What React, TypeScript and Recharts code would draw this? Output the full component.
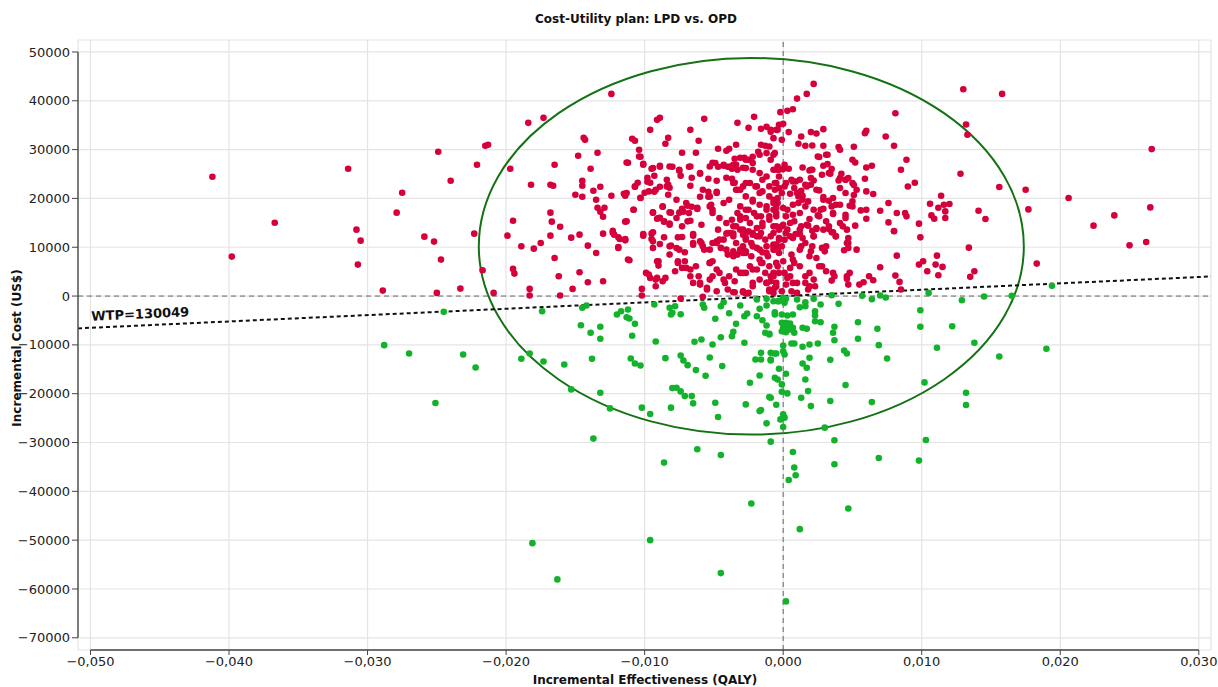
import React from 'react';
import {
  ScatterChart,
  Scatter,
  XAxis,
  YAxis,
  CartesianGrid,
  ReferenceLine,
  ReferenceArea,
  ReferenceDot,
} from 'recharts';

// Simulaciones probabilísticas: [efectividad incremental (QALY), costo incremental (US$)]
// Rojo: por encima de la recta de WTP
const aboveWtp: [number, number][] = [
  [-0.0412, 24440], [-0.0398, 8080], [-0.0367, 15030], [-0.0314, 26070], [-0.0308, 13600], [-0.0305, 11350],
  [-0.0307, 6440], [-0.0289, 1120], [-0.0279, 17080], [-0.0275, 21170], [-0.0259, 12170], [-0.0252, 11150],
  [-0.0249, 29550], [-0.0247, 7470], [-0.025, 650], [-0.024, 23620], [-0.0233, 1530], [-0.0223, 12780],
  [-0.0221, 26890], [-0.0217, 5280], [-0.0209, 650],
  [-0.0215, 30780], [-0.0213, 30980], [-0.0184, 35480], [-0.0173, 36500], [-0.0124, 41410], [-0.0197, 26070],
  [-0.0165, 26890], [-0.0144, 32410], [-0.0143, 32000], [-0.0148, 28730], [-0.0139, 26070], [-0.0134, 29350],
  [-0.0182, 22800], [-0.0168, 22800], [-0.0166, 22600], [-0.0145, 23620], [-0.0145, 22600], [-0.015, 20760],
  [-0.0145, 20350], [-0.0137, 21570], [-0.0132, 22390], [-0.0135, 19730], [-0.0124, 20550], [-0.0115, 20960],
  [-0.0114, 20550], [-0.0134, 18100], [-0.0129, 18100], [-0.0132, 17280], [-0.013, 16260], [-0.0168, 17080],
  [-0.0195, 15440], [-0.0167, 15240], [-0.0161, 14210], [-0.0199, 12370], [-0.0168, 12370], [-0.0153, 11960],
  [-0.0147, 12580], [-0.013, 12780], [-0.0123, 12990], [-0.0122, 12580], [-0.0114, 15240], [-0.0108, 17690],
  [-0.0112, 27300], [-0.0109, 32210], [-0.0107, 31800], [-0.0104, 29960], [-0.0103, 28530], [-0.0096, 34050],
  [-0.0091, 36090], [-0.0089, 36500], [-0.0083, 32410], [-0.0085, 31190], [-0.0101, 27100], [-0.0095, 26070],
  [-0.0098, 24230], [-0.0098, 23420], [-0.0096, 23210], [-0.0089, 26480], [-0.0093, 24640], [-0.008, 26480],
  [-0.0075, 25660], [-0.0074, 24640], [-0.0067, 34050], [-0.0073, 29350], [-0.0063, 29350], [-0.0061, 31800],
  [-0.0068, 26480], [-0.0057, 36300], [-0.006, 25050], [-0.0066, 24230], [-0.0067, 22600], [-0.0084, 23820],
  [-0.0083, 22800], [-0.0082, 22190], [-0.0089, 22390], [-0.0107, 22390], [-0.0105, 23210], [-0.01, 21170],
  [-0.0103, 20140], [-0.0093, 21370], [-0.0087, 18300], [-0.0094, 17080], [-0.0089, 16050], [-0.0091, 15850],
  [-0.0086, 15240], [-0.0082, 14830], [-0.0081, 17080], [-0.0075, 17080], [-0.0072, 17280], [-0.0069, 18510],
  [-0.0073, 17890], [-0.0066, 18300], [-0.0067, 15440], [-0.0062, 18100], [-0.0059, 14620], [-0.006, 20350],
  [-0.0054, 20350], [-0.0052, 18710], [-0.0051, 17690], [-0.0054, 21370], [-0.0048, 21370], [-0.0054, 24030],
  [-0.0048, 23620], [-0.0041, 24230], [-0.0037, 24030], [-0.0035, 23210], [-0.0051, 27300], [-0.0047, 26480],
  [-0.0043, 26690], [-0.004, 26480], [-0.0036, 26890], [-0.0047, 30160], [-0.0041, 29760], [-0.0039, 30160],
  [-0.0034, 30980], [-0.0033, 35480], [-0.0025, 34460], [-0.0021, 36710], [-0.0016, 34250], [-0.0012, 34660],
  [-0.0009, 33640], [-0.0005, 34050], [-0.0035, 28120], [-0.0031, 28320], [-0.0028, 28320], [-0.0037, 26070],
  [-0.0033, 25870], [-0.0029, 26280], [-0.0025, 27910], [-0.0022, 28530], [-0.0018, 29550], [-0.0016, 30980],
  [-0.0013, 30780],
  [-0.0053, 18370], [-0.0051, 17010], [-0.0046, 15990], [-0.0041, 14960], [-0.0036, 14280], [-0.0031, 13600],
  [-0.0027, 12920], [-0.0019, 13940], [-0.0015, 14960], [-0.001, 16330], [-0.0005, 14280], [-0.0047, 13600],
  [-0.004, 12920], [-0.0036, 12230], [-0.0029, 12580], [-0.0022, 12580], [-0.0016, 12920],
  [-0.0027, 27910], [-0.0022, 25870], [-0.0017, 25190], [-0.0012, 24500], [-0.0007, 25870], [-0.0004, 26550],
  [-0.0024, 23150], [-0.0019, 22460], [-0.0015, 21440], [-0.001, 20410], [-0.0006, 21780], [-0.0027, 20410],
  [-0.0022, 19390], [-0.0017, 18710], [-0.0012, 17690], [-0.0007, 17690], [-0.0004, 19060], [-0.0033, 21780],
  [-0.0029, 22460], [-0.0025, 17690], [-0.0021, 17010], [-0.0016, 16330], [-0.0031, 16330], [-0.0027, 15990],
  [0.0022, 43460], [0.0017, 41410], [0.001, 40450], [-0.0002, 37670], [0.0003, 37940], [0.0007, 38280],
  [0.0081, 37460], [0.013, 42370], [0.0158, 41410], [0.0132, 35130], [0.0133, 33030], [-0.0003, 35070],
  [0.0, 35280], [-0.0009, 34050], [-0.0004, 34050], [-0.0007, 32350], [-0.0001, 32000], [0.0004, 33580],
  [0.0013, 32680], [0.002, 33580], [0.0024, 33290], [0.0029, 34190], [0.0059, 33370], [0.006, 33840],
  [0.0074, 32680], [0.008, 30780], [0.0011, 31190], [0.0016, 30780], [0.0021, 30840], [0.0029, 30780],
  [0.004, 30510], [0.0041, 29960], [0.0051, 30570], [-0.001, 30640], [-0.0006, 29280], [-0.0009, 27910],
  [0.0026, 28470], [0.0032, 28940], [0.005, 27910], [0.0052, 27360], [0.006, 26340], [0.0064, 26690],
  [0.0089, 27910], [0.0085, 25870], [0.0014, 26340], [0.0019, 25730], [0.0021, 25870], [0.0029, 26690],
  [0.0032, 27030], [0.0035, 26010], [0.0028, 24850], [0.0034, 25050], [0.0042, 25050], [0.0045, 23820],
  [0.0047, 24170], [0.004, 23680], [0.0041, 22130], [0.0051, 22740], [0.0053, 21780], [0.0059, 24030],
  [0.006, 21440], [0.0065, 20900], [0.0051, 20690], [0.009, 22450], [0.0095, 23210], [0.0128, 25050],
  [0.0114, 20550], [0.0106, 18920], [0.0112, 18100], [0.0116, 18710], [0.012, 18850], [0.0117, 17340],
  [0.0117, 15990], [0.0107, 16520], [0.0109, 15850], [0.0098, 14830], [0.0099, 12030], [0.0076, 19060],
  [0.0082, 17010], [0.0088, 17010], [0.0089, 16330], [0.0076, 15090], [0.008, 13330], [0.007, 17480],
  [0.006, 17690], [0.006, 15850], [0.0052, 14420], [0.0056, 17550], [0.005, 19390], [0.0048, 18510],
  [0.0045, 15990], [0.0041, 14960], [0.0043, 14280], [0.0036, 16810], [0.0038, 18710], [0.0029, 17890],
  [0.0025, 16520], [0.0027, 17690], [0.0033, 13740], [0.0036, 13050], [0.0024, 13740], [0.0021, 13390],
  [0.0029, 13600], [0.0018, 14420], [0.0019, 15790], [0.0013, 14280], [0.0009, 12720], [0.0012, 12720],
  [0.0029, 19730], [0.0033, 19530], [0.0035, 18370], [0.0024, 21780], [0.0026, 21640], [0.0029, 20290],
  [0.002, 24170], [0.0022, 23680], [0.002, 22800], [0.0016, 22800], [0.0013, 21580], [0.0004, 26070],
  [0.0, 26010], [-0.0005, 25870], [-0.0003, 24500], [-0.0006, 23150], [-0.0003, 22130], [0.0001, 22460],
  [0.0006, 23820], [0.0009, 23480], [0.0008, 22130], [0.0005, 20960], [0.0011, 20410], [0.0014, 20550],
  [0.0018, 19390], [0.0016, 18370], [0.0011, 19060], [0.0007, 18710], [0.0003, 17690], [0.0, 18030],
  [-0.0005, 18030], [-0.0007, 19060], [-0.0004, 20080], [-0.0005, 16330], [0.0002, 16330], [0.0007, 16670],
  [0.0012, 17010], [0.0, 14620], [0.0003, 13600], [-0.0003, 13600], [-0.0007, 14280], [0.0005, 14960],
  [0.0008, 15300], [0.0014, 11900], [0.0022, 12230], [0.0005, 12230], [-0.0003, 11900], [-0.0009, 12230],
  [0.0047, 11900], [0.0038, 12230],
  [0.0266, 30100], [0.0156, 22330], [0.0175, 21780], [0.0206, 20080], [0.0177, 17750], [0.0265, 18160],
  [0.0141, 17480], [0.0146, 15790], [0.0239, 16520], [0.0224, 14420], [0.0262, 11080], [0.025, 10390],
  [0.0134, 9920], [0.0183, 6650], [0.0138, 5070], [0.0135, 3930],
  [0.0035, 13050], [0.0046, 13600], [0.008, 13260], [0.0082, 8280], [0.0098, 6440], [0.0101, 7120],
  [0.0104, 5070], [0.011, 6440], [0.0111, 8280], [0.0115, 5970], [0.0112, 4250], [0.0081, 4190],
  [0.0084, 2900], [0.0085, 1330], [0.007, 5890], [0.0062, 4050], [0.0065, 3230], [0.0055, 2350],
  [0.0058, 2820], [0.0048, 4740], [0.0046, 3520], [0.0047, 2350], [0.0037, 4050], [0.0035, 3170],
  [0.0031, 5070], [0.0044, 9370], [0.0047, 10880], [0.0047, 9860], [0.0024, 7810], [0.0028, 6090],
  [0.0019, 4740], [0.0016, 4050], [0.0016, 2700], [0.0022, 3370], [0.0023, 2000], [0.0018, 1330],
  [0.003, 9160], [0.0028, 9860], [0.002, 9160], [0.0021, 10180], [0.0016, 10880], [0.0013, 10180],
  [0.0006, 8490], [0.0008, 6790], [0.0005, 5770], [0.0001, 4740], [0.0003, 3720], [0.0007, 2700],
  [0.0002, 2350], [-0.0001, 980], [0.0006, 980], [0.001, 650], [-0.0005, 10530], [-0.0007, 9510],
  [-0.0003, 11550], [0.0001, 11550], [0.0, 7120], [-0.0004, 6090], [-0.0007, 4740], [-0.0009, 3030],
  [-0.0005, 2700], [-0.0006, 1680], [-0.001, 1330],
  [-0.0189, 10180], [-0.018, 9710], [-0.0175, 10880], [-0.0165, 7810], [-0.0141, 10330], [-0.0135, 8830],
  [-0.0119, 10060], [-0.0118, 11700], [-0.0114, 11410], [-0.0111, 7320], [-0.0195, 5560], [-0.0194, 4600],
  [-0.0183, 1470], [-0.0183, 100], [-0.0161, 100], [-0.0162, 4050], [-0.0147, 4870], [-0.0152, 1470],
  [-0.0141, 2820], [-0.013, 3030], [-0.0101, 12370], [-0.0095, 12780], [-0.0094, 11210], [-0.0089, 10670],
  [-0.0102, 1470], [-0.0102, 100], [-0.0099, 4740], [-0.0096, 3720], [-0.0091, 7120], [-0.009, 6240],
  [-0.0091, 3720], [-0.0087, 3030], [-0.0092, 2000],
  [-0.0081, 10330], [-0.0077, 9850], [-0.0073, 12100], [-0.0071, 8960], [-0.0065, 10530], [-0.0065, 12370],
  [-0.0059, 10880], [-0.0057, 9510], [-0.0053, 6790], [-0.0051, 7120], [-0.0051, 10880], [-0.0048, 11210],
  [-0.0046, 11550], [-0.0041, 12780], [-0.0036, 12780], [-0.0045, 9860], [-0.004, 8490], [-0.0036, 9160],
  [-0.0033, 8490], [-0.0029, 8830], [-0.0027, 9160], [-0.0023, 10880], [-0.0019, 9860], [-0.0015, 8960],
  [-0.0012, 10180], [-0.0007, 10530], [-0.0004, 9510], [-0.0017, 12230], [-0.0027, 11900], [-0.0022, 12920],
  [-0.0076, 6790], [-0.0073, 5770], [-0.0071, 7120], [-0.0067, 5430], [-0.0063, 6110], [-0.0061, 4050],
  [-0.0065, 2700], [-0.006, 2350], [-0.0055, 1330], [-0.0053, 3370], [-0.0051, 4050], [-0.0046, 4740],
  [-0.0042, 2700], [-0.004, 1330], [-0.0035, 3030], [-0.0031, 4740], [-0.0027, 4740], [-0.0022, 5430],
  [-0.0016, 6790], [-0.0013, 4740], [-0.0012, 2700], [-0.0009, 4050], [-0.0005, 2000], [-0.0007, 650],
  [-0.0022, 2000], [-0.0025, 650], [-0.0029, 980], [-0.0035, 780],
  [-0.0074, -510], [-0.0058, -160], [-0.0048, 980], [-0.0036, 780], [-0.0029, 780], [-0.0027, 510], [-0.001, 980],
  [-0.0053, 26550], [-0.0049, 27240], [-0.0043, 26890], [-0.0038, 26550], [-0.0034, 26890], [-0.0027, 26210],
  [-0.0022, 27240], [-0.0017, 28940], [-0.0012, 29280], [-0.0007, 28940], [-0.0003, 25870], [0.0001, 26890],
  [0.0007, 23480], [0.0012, 23820], [0.0017, 22460], [0.002, 25870], [0.0025, 28600], [0.0031, 28940],
  [0.0033, 25190], [0.0041, 24170], [0.0045, 23820], [0.005, 23150], [0.0045, 21100], [0.0036, 20080],
  [0.0041, 18710], [0.005, 18370], [0.0045, 16670], [0.0036, 17010], [0.0031, 15300], [0.0024, 13940],
  [0.0017, 14620], [0.0012, 13600], [0.0007, 11900], [0.0002, 12920],
  [-0.0058, 21780], [-0.0053, 20410], [-0.0048, 21100], [-0.0043, 19060], [-0.0039, 19730], [-0.0034, 21780],
  [-0.0031, 18370], [-0.0027, 17690], [-0.0022, 19730], [-0.0017, 21100], [-0.0012, 18370], [-0.0007, 19730],
  [-0.0005, 17010], [-0.001, 15640], [-0.0015, 14280], [-0.0019, 16330], [-0.0024, 14960], [-0.0029, 13600],
  [-0.0034, 14280], [-0.0038, 12920], [-0.0043, 11550], [-0.0048, 10880], [-0.0053, 9510], [-0.0058, 10180],
  [-0.0041, 9510], [-0.0036, 8150], [-0.0031, 9510], [-0.0027, 8830], [-0.0022, 10180], [-0.0017, 9510],
  [-0.0012, 8830], [-0.0007, 10180], [-0.0003, 8830], [-0.0005, 6790], [-0.001, 6110], [-0.0015, 6790],
  [-0.0019, 5430], [-0.0024, 6110], [-0.0029, 4740], [-0.0034, 5430], [-0.0039, 4050], [-0.0043, 3370],
  [-0.0048, 5430], [-0.0053, 6790], [-0.0022, 2700], [-0.0017, 3370], [-0.0012, 2700], [-0.0007, 4050],
  [-0.0003, 4740],
  [-0.0113, 27370], [-0.0104, 28600], [-0.0101, 26890], [-0.0094, 26210], [-0.0089, 26690], [-0.0082, 26550],
  [-0.0075, 25870], [-0.0067, 26550], [-0.006, 25190], [-0.0107, 22460], [-0.0113, 21100], [-0.0097, 21440],
  [-0.0092, 21780], [-0.0084, 22460], [-0.0083, 20760], [-0.0077, 19730], [-0.007, 19060], [-0.0103, 20080],
  [-0.0094, 17140], [-0.0087, 18370], [-0.0082, 17140], [-0.0077, 15990], [-0.0068, 17010], [-0.0062, 17830],
  [-0.0108, 17690], [-0.0113, 15300], [-0.009, 15990], [-0.0086, 15300], [-0.0082, 14620], [-0.0073, 14280],
  [-0.0069, 15300], [-0.0123, 13390], [-0.0119, 12030], [-0.0114, 11700], [-0.0101, 12720], [-0.0094, 13050],
  [-0.0095, 11700], [-0.0086, 12030], [-0.0076, 12030], [-0.0065, 12720], [-0.0119, 9860], [-0.0112, 7470],
  [-0.0094, 9860], [-0.009, 7120], [-0.0082, 10180], [-0.0082, 8490], [-0.0075, 9510], [-0.0076, 7120],
  [-0.0065, 10880], [-0.006, 11210], [-0.0097, 4400], [-0.0092, 3370], [-0.0085, 3720], [-0.0078, 5090],
  [-0.007, 5770], [-0.0067, 4050], [-0.006, 2700], [-0.0055, 1670],
  [0.0002, 23150], [0.001, 21100], [0.0014, 19730], [0.0022, 17690], [0.0026, 16330], [0.0033, 14280],
  [0.0038, 12230], [0.0046, 10880], [0.0053, 9510], [0.0022, 12230], [0.0031, 10180], [0.0012, 9510],
  [0.0019, 8150], [0.0026, 6110], [0.0036, 4740], [0.0046, 4050], [0.0012, 6110], [0.0005, 4050],
  [0.001, 2700], [0.0019, 2000], [0.0007, 7470],
  [-0.0036, 23150], [-0.0031, 21780], [-0.0027, 23150], [-0.002, 22460], [-0.0015, 23820], [-0.001, 22460],
  [-0.0005, 23150], [-0.0001, 21100], [-0.0031, 15640], [-0.0025, 13260], [-0.0019, 12230], [-0.0013, 11550],
  [-0.0007, 12920], [-0.0001, 14280], [-0.0029, 10180], [-0.0023, 8150], [-0.0017, 7470], [-0.0011, 8150],
  [-0.0006, 9510], [-0.0001, 10180], [-0.0027, 11550], [-0.0034, 10880], [-0.0037, 15640], [-0.0033, 17010],
];

// Verde: por debajo de la recta de WTP
const belowWtp: [number, number][] = [
  [0.0194, 2090], [0.0129, -860], [0.0145, -100], [0.0165, 40], [0.0138, -9570], [0.0156, -12370], [0.019, -10800],
  [-0.0004, -1060], [0.0, -370], [0.0002, -570], [0.0001, -1390], [0.001, -720], [0.0016, -1270], [0.0016, -2090],
  [0.0022, -570], [0.0027, -1740], [0.0012, -2290], [0.0035, 160], [0.004, -1600], [0.0057, 40], [0.0064, -650],
  [0.007, 100], [0.0074, -300], [0.0105, 650], [0.0099, -2900], [0.0099, -6300], [0.0122, -6180], [0.0111, -10600],
  [-0.0006, -3310], [-0.0001, -3780], [0.0003, -3990], [0.0007, -3780], [-0.0001, -5480], [0.0002, -5480],
  [0.0005, -5620], [0.0, -6500], [0.0003, -6500], [0.0007, -6500], [-0.0001, -7200], [0.0002, -7400],
  [0.0005, -6850], [0.0008, -7530], [0.0023, -3110], [0.0023, -3990], [0.0023, -5150], [0.0027, -5360],
  [0.0014, -6500], [0.0017, -6710], [0.0037, -6300], [0.0036, -7530], [0.0037, -9040], [0.0054, -5360],
  [0.0068, -6710], [0.0054, -8750], [0.0069, -10060], [0.0075, -12780], [0.0044, -11150], [0.0046, -11760],
  [0.0034, -13050], [0.0025, -9710], [0.0019, -9920], [0.0014, -10390], [0.0006, -9710], [0.0008, -9710],
  [0.0, -10120], [0.0, -11290], [0.0001, -11960], [-0.0006, -11760], [-0.0009, -12990], [-0.001, -7870],
  [0.0019, -12640], [0.0014, -13800], [0.0017, -14680], [-0.0003, -14890], [0.0002, -15910], [-0.0006, -16730],
  [-0.0004, -17080], [0.0016, -17080], [-0.0001, -18100], [0.0018, -19470], [-0.0001, -19590], [0.0003, -19940],
  [-0.0009, -20820], [0.0013, -20820], [0.002, -22540], [0.0034, -21510], [0.0045, -18240], [0.0064, -21720],
  [-0.0005, -22250], [0.0, -24230], [0.0001, -24910], [-0.0002, -25260], [0.0, -26830], [0.003, -26950],
  [-0.0009, -29820], [0.0037, -29550], [0.0007, -31940], [0.0037, -34460], [0.0069, -33170], [0.0098, -33700],
  [0.0103, -29490], [0.0102, -17690], [0.0132, -19800], [0.0132, -22330], [0.0008, -35130], [0.0009, -36710],
  [0.0004, -37670], [0.0047, -43520], [0.0012, -47750], [0.0002, -62540],
  [-0.0288, -10060], [-0.027, -11760], [-0.0245, -3230], [-0.0231, -11960], [-0.0222, -14620], [-0.0251, -21920],
  [-0.0189, -12840], [-0.0183, -11760], [-0.0174, -3110], [-0.0173, -13390], [-0.0158, -14010], [-0.0153, -19120],
  [-0.0146, -5970], [-0.0145, -2410], [-0.0142, -1940], [-0.0139, -7530], [-0.0132, -6300], [-0.0132, -8750],
  [-0.0138, -12840], [-0.0132, -19800], [-0.0125, -23010], [-0.0137, -29200], [-0.0181, -50610], [-0.0163, -58040],
  [-0.012, -3780], [-0.0117, -3110], [-0.0112, -2760], [-0.0113, -4340], [-0.0111, -4600], [-0.0107, -5690],
  [-0.0109, -8140], [-0.011, -12780], [-0.0107, -13800], [-0.0103, -14210], [-0.0092, -9300], [-0.0093, -1740],
  [-0.0082, -2410], [-0.0078, -2090], [-0.008, -3440], [-0.0081, -3780], [-0.0074, -3720], [-0.0085, -12720],
  [-0.0074, -12170], [-0.0072, -13190], [-0.0069, -14150], [-0.0063, -15170], [-0.0056, -16320], [-0.0064, -9370],
  [-0.0059, -8900], [-0.0051, -9920], [-0.0045, -8430], [-0.0053, -12580], [-0.0044, -14350], [-0.008, -18850],
  [-0.0077, -18770], [-0.0074, -19530], [-0.0071, -20490], [-0.0066, -20490], [-0.0065, -21980], [-0.0081, -22860],
  [-0.0102, -22860], [-0.0096, -24170], [-0.0049, -21840], [-0.0047, -24780], [-0.0062, -31390], [-0.0045, -32550],
  [-0.0086, -34110], [-0.0023, -42500], [-0.0096, -50000], [-0.0045, -56750], [-0.0049, -4660], [-0.0039, -3520],
  [-0.0045, -2090], [-0.0043, -1270], [-0.0058, -1740], [-0.0057, -2410], [-0.0034, -5690], [-0.0036, -7320],
  [-0.0037, -8220], [-0.0028, -9570], [-0.0031, -1940], [-0.0028, -4130], [-0.0026, -3580], [-0.0019, -720],
  [-0.0012, -570], [-0.0007, -1060], [-0.0017, -2620], [-0.0012, -1940], [-0.0019, -4130], [-0.0015, -4950],
  [-0.0012, -6030], [-0.0013, -7530], [-0.001, -7730], [-0.0006, -3780], [-0.0003, -1060], [-0.0016, -11620],
  [-0.0009, -11620], [-0.0005, -11760], [-0.002, -12990], [-0.0016, -12990], [-0.0009, -13190], [-0.0017, -16260],
  [-0.0024, -17750], [-0.001, -20700], [-0.0027, -22190], [-0.0017, -23560], [-0.0016, -23350], [-0.0012, -26070],
];

const WTP = 130049;
const xTicks = [-0.05, -0.04, -0.03, -0.02, -0.01, 0, 0.01, 0.02, 0.03];
const yTicks = [-70000, -60000, -50000, -40000, -30000, -20000, -10000, 0, 10000, 20000, 30000, 40000, 50000];
// Elipse de confianza (límites en unidades de datos)
const ellipseX = [-0.02197, 0.01737];
const ellipseY = [-28380, 48770];

const X_MIN = -0.0509;
const X_MAX = 0.03088;
const Y_MIN = -72500;
const Y_MAX = 52450;

const RED = '#d5003b';
const GREEN = '#14b22c';
const FONT = '"DejaVu Sans", Verdana, sans-serif';

const fmtX = (v: number) => (v < 0 ? '\u2212' : '') + Math.abs(v).toFixed(3).replace('.', ',');
const fmtY = (v: number) => (v < 0 ? '\u2212' : '') + String(Math.abs(v));

const toRows = (pts: [number, number][]) => pts.map(([e, c]) => ({ e, c }));

const dot = (fill: string) => (props: any) => (
  <circle cx={props.cx} cy={props.cy} r={3.3} fill={fill} />
);

export default function App() {
  const red = toRows(aboveWtp);
  const green = toRows(belowWtp);

  return (
    <div style={{ position: 'absolute', left: 0, top: 0, width: 1218, height: 687, background: '#fff', fontFamily: FONT }}>
      <ScatterChart width={1218} height={687} margin={{ top: 40, right: 7, bottom: 0, left: 0 }}>
        <CartesianGrid stroke="#e4e4e4" strokeWidth={1.2} />
        <XAxis
          type="number"
          dataKey="e"
          domain={[X_MIN, X_MAX]}
          ticks={xTicks}
          interval={0}
          allowDataOverflow
          tickFormatter={fmtX}
          axisLine={false}
          tickLine={{ stroke: '#444' }}
          tickSize={5}
          height={37}
          tick={{ fill: '#222', fontSize: 13, fontFamily: FONT }}
        />
        <YAxis
          type="number"
          dataKey="c"
          domain={[Y_MIN, Y_MAX]}
          ticks={yTicks}
          interval={0}
          allowDataOverflow
          tickFormatter={fmtY}
          axisLine={false}
          tickLine={{ stroke: '#444' }}
          tickSize={6}
          width={78}
          tick={{ fill: '#222', fontSize: 13, fontFamily: FONT }}
        />
        <ReferenceLine x={0} stroke="#666" strokeDasharray="5 4" />
        <ReferenceLine y={0} stroke="#666" strokeDasharray="5 4" />
        <Scatter data={red} fill={RED} shape={dot(RED)} isAnimationActive={false} />
        <Scatter data={green} fill={GREEN} shape={dot(GREEN)} isAnimationActive={false} />
        <ReferenceArea
          x1={ellipseX[0]}
          x2={ellipseX[1]}
          y1={ellipseY[0]}
          y2={ellipseY[1]}
          shape={(p: any) => (
            <ellipse
              cx={p.x + p.width / 2}
              cy={p.y + p.height / 2}
              rx={Math.abs(p.width) / 2}
              ry={Math.abs(p.height) / 2}
              fill="none"
              stroke="#147214"
              strokeWidth={2}
            />
          )}
        />
        <ReferenceLine
          segment={[
            { x: X_MIN, y: WTP * X_MIN },
            { x: X_MAX, y: WTP * X_MAX },
          ]}
          stroke="#111"
          strokeWidth={2}
          strokeDasharray="4 3"
        />
        <ReferenceDot
          x={-0.0499}
          y={WTP * -0.0499}
          shape={(p: any) => (
            <text
              x={p.cx}
              y={p.cy - 7}
              transform={`rotate(-2.6 ${p.cx} ${p.cy})`}
              fontFamily={FONT}
              fontSize={13}
              fontWeight="bold"
              fill="#111"
            >
              WTP={WTP}
            </text>
          )}
        />
        {/* ejes desplazados, como en el original */}
        <ReferenceLine segment={[{ x: X_MIN, y: 50000 }, { x: X_MIN, y: -70000 }]} stroke="#555" strokeWidth={1.5} />
        <ReferenceLine segment={[{ x: -0.05, y: Y_MIN }, { x: 0.03, y: Y_MIN }]} stroke="#444" strokeWidth={1.5} />
      </ScatterChart>

      <svg width={1218} height={687} style={{ position: 'absolute', left: 0, top: 0, pointerEvents: 'none' }}>
        <text x={636} y={23} textAnchor="middle" fontFamily={FONT} fontSize={12} fontWeight="bold" fill="#111">
          Cost-Utility plan: LPD vs. OPD
        </text>
        <text x={645} y={684} textAnchor="middle" fontFamily={FONT} fontSize={12} fontWeight="bold" fill="#111">
          Incremental Effectiveness (QALY)
        </text>
        <text
          x={21}
          y={348}
          textAnchor="middle"
          transform="rotate(-90 21 348)"
          fontFamily={FONT}
          fontSize={12}
          fontWeight="bold"
          fill="#111"
        >
          Incremental Cost (US$)
        </text>
      </svg>
    </div>
  );
}
